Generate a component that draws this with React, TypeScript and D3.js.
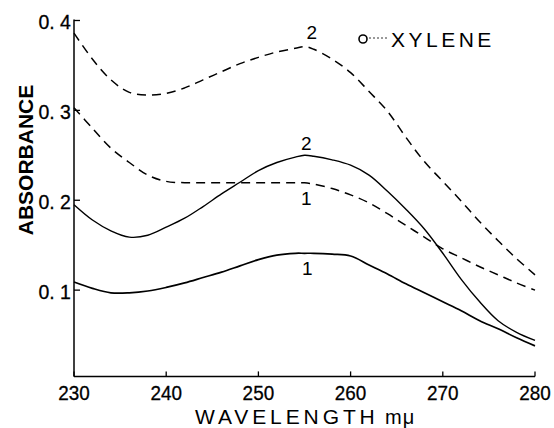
import React from "react";
import * as d3 from "d3";

// Wavelength grid (mμ) shared by all four spectra
const wavelengths = [
  230, 232, 234, 236, 238, 240, 242, 244, 246, 248, 250, 252, 254, 255, 256,
  258, 260, 262, 264, 266, 268, 270, 272, 274, 276, 278, 280,
];

// Dashed curves: xylene solutions
const dashed2 = [
  0.386, 0.357, 0.334, 0.32, 0.317, 0.319, 0.325, 0.334, 0.343, 0.352, 0.359,
  0.365, 0.369, 0.371, 0.368, 0.357, 0.342, 0.321, 0.299, 0.27, 0.243, 0.221,
  0.199, 0.176, 0.155, 0.135, 0.117,
];
const dashed1 = [
  0.303, 0.28, 0.258, 0.242, 0.228, 0.221, 0.2195, 0.2195, 0.2195, 0.2195,
  0.2195, 0.2195, 0.2195, 0.2195, 0.218, 0.213, 0.206, 0.197, 0.185, 0.172,
  0.159, 0.146, 0.136, 0.126, 0.117, 0.108, 0.1,
];

// Solid curves
const solid2 = [
  0.195, 0.178, 0.166, 0.159, 0.161, 0.17, 0.18, 0.193, 0.207, 0.22, 0.233,
  0.242, 0.248, 0.25, 0.249, 0.245, 0.239, 0.228, 0.21, 0.19, 0.168, 0.141,
  0.112, 0.087, 0.066, 0.053, 0.044,
];
const solid1 = [
  0.109, 0.102, 0.097, 0.097, 0.099, 0.103, 0.108, 0.114, 0.12, 0.127, 0.134,
  0.139, 0.141, 0.141, 0.141, 0.14, 0.138, 0.128, 0.118, 0.107, 0.097, 0.087,
  0.077, 0.066, 0.057, 0.047, 0.038,
];

const xTicks = [230, 240, 250, 260, 270, 280];
const yTicks = [0.1, 0.2, 0.3, 0.4];
const yTickLabels = ["0. 1", "0. 2", "0. 3", "0. 4"];

// Curve number labels: [wavelength, absorbance (baseline), text]
const curveLabels: [number, number, string][] = [
  [255.8, 0.379, "2"],
  [255.2, 0.256, "2"],
  [255.2, 0.195, "1"],
  [255.3, 0.117, "1"],
];

const W = 554;
const H = 428;
const Y_BASE = 0.004;

export default function App() {
  const x = d3.scaleLinear().domain([230, 280]).range([74, 535]);
  const y = d3.scaleLinear().domain([0, 0.4]).range([380, 20.5]);

  const line = d3
    .line<[number, number]>()
    .x((d) => x(d[0]))
    .y((d) => y(d[1]))
    .curve(d3.curveCatmullRom.alpha(0.5));

  const pts = (vals: number[]) =>
    wavelengths.map((w, i) => [w, vals[i]] as [number, number]);

  const font = "'Liberation Sans', Arial, sans-serif";

  return (
    <svg
      width={W}
      height={H}
      style={{ position: "absolute", left: 0, top: 0, background: "#fff" }}
    >
      <rect width={W} height={H} fill="#fff" />
      {/* axes */}
      <line
        x1={x(230)}
        x2={x(230)}
        y1={y(0.4) - 1}
        y2={y(Y_BASE)}
        stroke="#000"
        strokeWidth={1.5}
      />
      <line
        x1={x(230)}
        x2={x(280)}
        y1={y(Y_BASE)}
        y2={y(Y_BASE)}
        stroke="#000"
        strokeWidth={1.5}
      />
      {yTicks.map((t, i) => (
        <g key={"y" + t}>
          <line
            x1={x(230)}
            x2={x(230) + 6}
            y1={y(t)}
            y2={y(t)}
            stroke="#000"
            strokeWidth={1.3}
          />
          <text
            x={71}
            y={y(t) + 8.5}
            textAnchor="end"
            fontFamily={font}
            fontSize={21}
            stroke="#000"
            strokeWidth={0.3}
            transform={`translate(71,0) scale(0.93,1) translate(-71,0)`}
          >
            {yTickLabels[i]}
          </text>
        </g>
      ))}
      {xTicks.map((t) => (
        <g key={"x" + t}>
          <line
            x1={x(t)}
            x2={x(t)}
            y1={y(Y_BASE)}
            y2={y(Y_BASE) - 5}
            stroke="#000"
            strokeWidth={1.3}
          />
          <text
            x={x(t)}
            y={400}
            textAnchor="middle"
            fontFamily={font}
            fontSize={21}
            stroke="#000"
            strokeWidth={0.3}
            transform={`translate(${x(t)},0) scale(0.9,1) translate(${-x(t)},0)`}
          >
            {t}
          </text>
        </g>
      ))}

      {/* axis titles */}
      <text x={195} y={424} fontFamily={font} fontSize={21} letterSpacing={3.9}>
        WAVELENGTH
      </text>
      <text x={385} y={424} fontFamily={font} fontSize={20} letterSpacing={1}>
        mμ
      </text>
      <text
        transform="translate(33,160) rotate(-90)"
        textAnchor="middle"
        fontFamily={font}
        fontSize={21}
        fontWeight="bold"
      >
        ABSORBANCE
      </text>

      {/* spectra */}
      <path
        d={line(pts(dashed2)) || ""}
        fill="none"
        stroke="#000"
        strokeWidth={1.5}
        strokeDasharray="9 6"
      />
      <path
        d={line(pts(dashed1)) || ""}
        fill="none"
        stroke="#000"
        strokeWidth={1.5}
        strokeDasharray="9 6"
      />
      <path
        d={line(pts(solid2)) || ""}
        fill="none"
        stroke="#000"
        strokeWidth={1.4}
      />
      <path
        d={line(pts(solid1)) || ""}
        fill="none"
        stroke="#000"
        strokeWidth={1.7}
      />

      {curveLabels.map(([w, v, s], i) => (
        <text
          key={"cl" + i}
          x={x(w)}
          y={y(v)}
          textAnchor="middle"
          fontFamily={font}
          fontSize={19}
        >
          {s}
        </text>
      ))}

      {/* legend */}
      <circle cx={363} cy={39} r={4} fill="none" stroke="#000" strokeWidth={1.6} />
      <line
        x1={369}
        x2={389}
        y1={38}
        y2={38}
        stroke="#000"
        strokeWidth={0.8}
        strokeDasharray="2 2"
      />
      <text x={391} y={47} fontFamily={font} fontSize={21} letterSpacing={3.5}>
        XYLENE
      </text>
    </svg>
  );
}
